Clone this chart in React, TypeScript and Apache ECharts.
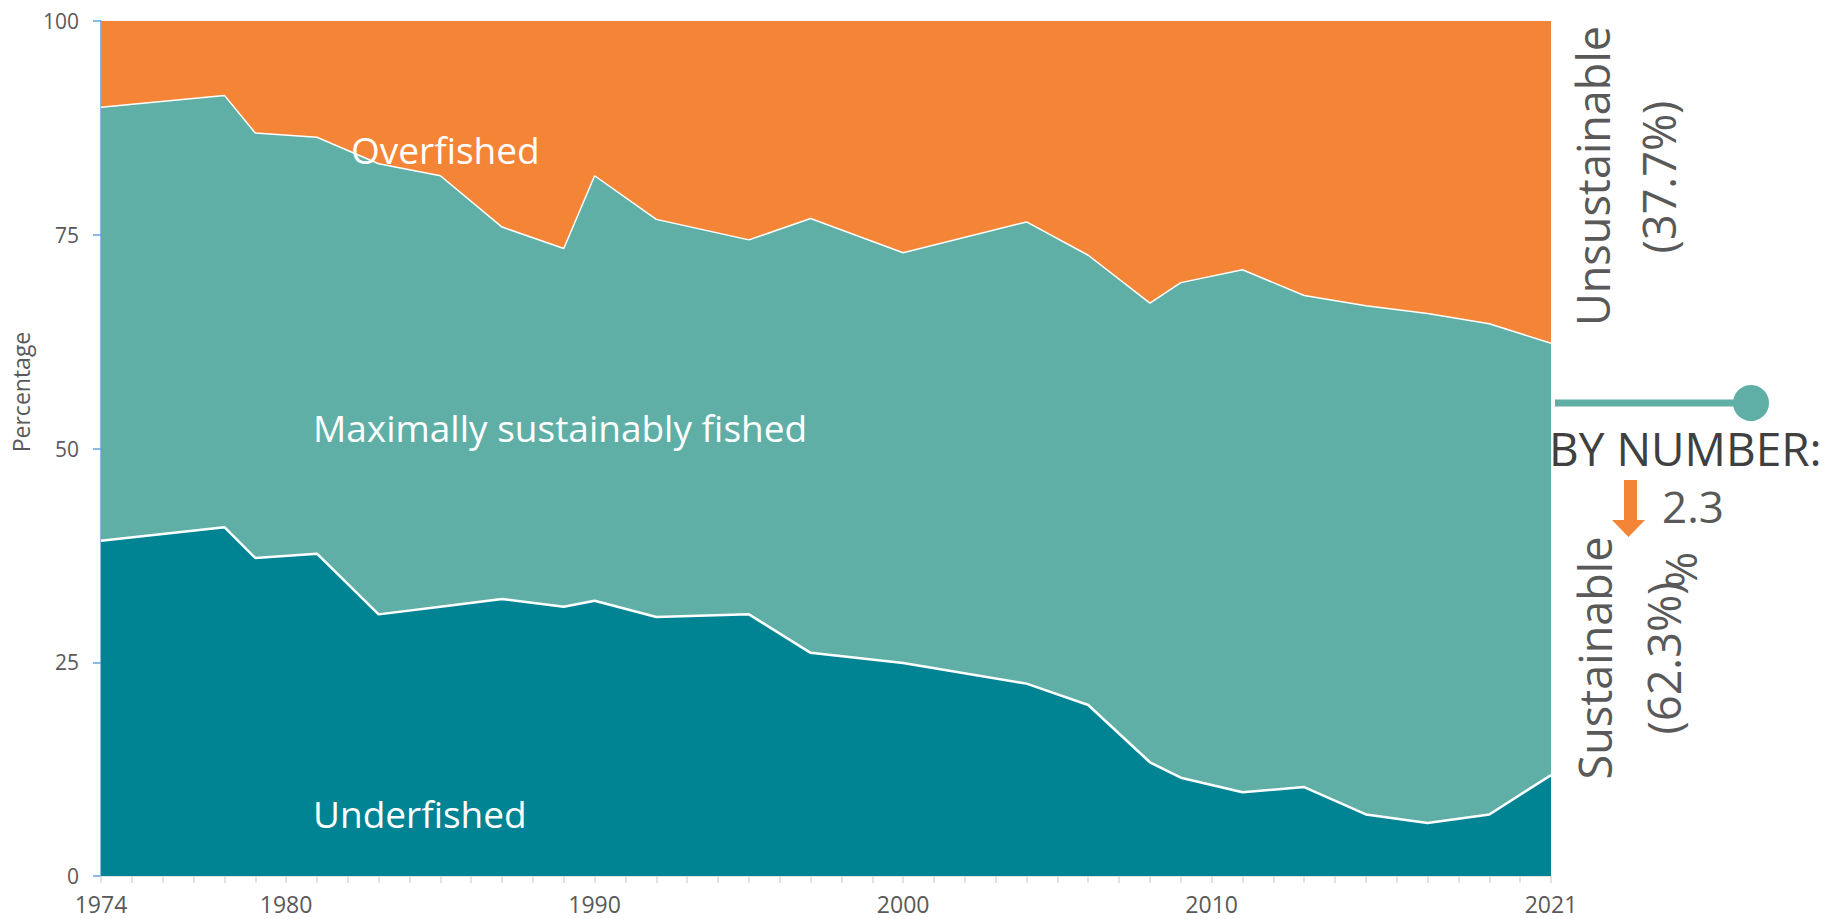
import React, { useEffect, useRef } from "react";
import * as echarts from "echarts";

const years = [1974, 1978, 1979, 1981, 1983, 1985, 1987, 1989, 1990, 1992, 1995, 1997, 2000, 2004, 2006, 2008, 2009, 2011, 2013, 2015, 2017, 2019, 2021];
const underfished = [39.2, 40.8, 37.2, 37.7, 30.6, 31.5, 32.4, 31.5, 32.2, 30.3, 30.6, 26.1, 24.9, 22.5, 20.0, 13.3, 11.5, 9.8, 10.4, 7.2, 6.2, 7.2, 11.8];
const maxSustainable = [50.7, 50.5, 49.7, 48.7, 52.7, 50.4, 43.5, 41.9, 49.7, 46.5, 43.8, 50.8, 48.0, 54.0, 52.6, 53.7, 57.9, 61.1, 57.5, 59.5, 59.6, 57.4, 50.5];
const overfished = [10.1, 8.7, 13.1, 13.6, 16.7, 18.1, 24.1, 26.6, 18.1, 23.2, 25.6, 23.1, 27.1, 23.5, 27.4, 33.0, 30.6, 29.1, 32.1, 33.3, 34.2, 35.4, 37.7];
const xTickLabels = [1974, 1980, 1990, 2000, 2010, 2021];
const yTicks = [0, 25, 50, 75, 100];

const FONT = "'Open Sans', 'Noto Sans', sans-serif";
const C_UNDER = "#008494";
const C_MSF = "#5FAFA7";
const C_OVER = "#F58536";
const GREY = "#595959";

export default function App() {
  const ref = useRef<HTMLDivElement>(null);
  useEffect(() => {
    if (!ref.current) return;
    const chart = echarts.init(ref.current, undefined, { renderer: "svg" });
    // cumulative stacking done here (value x-axis)
    const cumUnder = underfished.map((v) => v);
    const cumMsf = underfished.map((v, i) => +(v + maxSustainable[i]).toFixed(2));
    const cumOver = cumMsf.map((v, i) => +(v + overfished[i]).toFixed(2));
    const pairs = (vals: number[]) => years.map((y, i) => [y, vals[i]]);
    const txt = (text: string, x: number, y: number, size: number, fill: string, opts: any = {}) => ({
      type: "text",
      x,
      y,
      rotation: opts.rotation || 0,
      z: 10,
      style: {
        text,
        fill,
        fontSize: size,
        fontFamily: FONT,
        align: opts.align || "left",
        verticalAlign: "middle",
      },
    });
    chart.setOption({
      animation: false,
      grid: { left: 101, right: 277, top: 21, bottom: 43, containLabel: false },
      xAxis: {
        type: "value",
        min: 1974,
        max: 2021,
        interval: 1,
        axisLine: { show: true, lineStyle: { color: "#D9D9D9", width: 1.5 } },
        axisTick: { show: true, length: 7, lineStyle: { color: "#D9D9D9", width: 1.5 } },
        splitLine: { show: false },
        axisLabel: {
          color: GREY,
          fontSize: 23,
          fontFamily: FONT,
          margin: 16,
          showMinLabel: true,
          showMaxLabel: true,
          formatter: (v: number) => (xTickLabels.includes(v) ? String(v) : ""),
        },
      },
      yAxis: {
        type: "value",
        min: yTicks[0],
        max: yTicks[yTicks.length - 1],
        interval: 25,
        axisLine: { show: true, lineStyle: { color: "#6A9FDB", width: 1.5 } },
        axisTick: { show: true, length: 8, lineStyle: { color: "#6A9FDB", width: 1.5 } },
        splitLine: { show: false },
        axisLabel: { color: GREY, fontSize: 21, fontFamily: FONT, margin: 22 },
      },
      series: [
        {
          name: "Overfished",
          type: "line",
          z: 2,
          symbol: "none",
          data: pairs(cumOver),
          lineStyle: { width: 0 },
          areaStyle: { color: C_OVER, opacity: 1 },
        },
        {
          name: "Maximally sustainably fished",
          type: "line",
          z: 3,
          symbol: "none",
          data: pairs(cumMsf),
          lineStyle: { color: "#FFFFFF", width: 1.5 },
          areaStyle: { color: C_MSF, opacity: 1 },
        },
        {
          name: "Underfished",
          type: "line",
          z: 4,
          symbol: "none",
          data: pairs(cumUnder),
          lineStyle: { color: "#FFFFFF", width: 2.5 },
          areaStyle: { color: C_UNDER, opacity: 1 },
        },
      ],
      graphic: [
        txt("Percentage", 21, 392, 23, GREY, { rotation: Math.PI / 2, align: "center" }),
        txt("Overfished", 351, 149, 37, "#FFFFFF"),
        txt("Maximally sustainably fished", 313, 427, 37, "#FFFFFF"),
        txt("Underfished", 313, 813, 37, "#FFFFFF"),
        txt("Unsustainable", 1592, 176, 45, GREY, { rotation: Math.PI / 2, align: "center" }),
        txt("(37.7%)", 1658, 177, 45, GREY, { rotation: Math.PI / 2, align: "center" }),
        {
          type: "line",
          z: 10,
          shape: { x1: 1555, y1: 403, x2: 1740, y2: 403 },
          style: { stroke: C_MSF, lineWidth: 7 },
        },
        {
          type: "circle",
          z: 10,
          shape: { cx: 1751, cy: 403, r: 18 },
          style: { fill: C_MSF },
        },
        txt("BY NUMBER:", 1549, 448, 46, "#404040"),
        {
          type: "polygon",
          z: 10,
          shape: {
            points: [
              [1624, 480],
              [1637, 480],
              [1637, 520],
              [1645, 520],
              [1628.5, 537],
              [1612, 520],
              [1624, 520],
            ],
          },
          style: { fill: C_OVER },
        },
        txt("2.3", 1662, 506, 44, GREY),
        txt("Sustainable", 1594, 658, 45, GREY, { rotation: Math.PI / 2, align: "center" }),
        txt("(62.3%)", 1663, 658, 45, GREY, { rotation: Math.PI / 2, align: "center" }),
        txt("%", 1680, 570, 44, GREY, { rotation: Math.PI / 2, align: "center" }),
      ],
    });
    return () => chart.dispose();
  }, []);
  return (
    <div
      ref={ref}
      style={{ position: "fixed", left: 0, top: 0, width: 1828, height: 919, background: "#FFFFFF" }}
    />
  );
}
